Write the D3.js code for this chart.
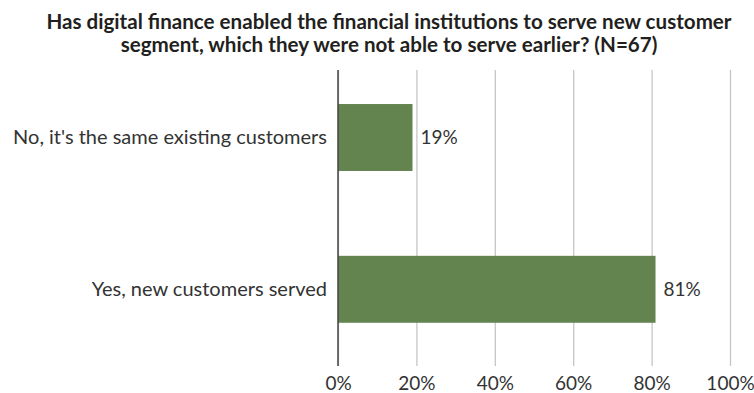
<!DOCTYPE html>
<html>
<head>
<meta charset="utf-8">
<script src="https://cdn.jsdelivr.net/npm/d3@7"></script>
<style>
  html, body { margin: 0; padding: 0; background: #ffffff; }
  svg { display: block; font-family: Lato, "Open Sans", sans-serif; }
</style>
</head>
<body>
<svg id="chart" width="754" height="393"></svg>
<script>
// Survey answers and their shares (%)
const categories = ["No, it's the same existing customers", "Yes, new customers served"];
const values = [19, 81];
const tickValues = [0, 20, 40, 60, 80, 100];
const titleLines = [
  "Has digital finance enabled the financial institutions to serve new customer",
  "segment, which they were not able to serve earlier? (N=67)"
];

const svg = d3.select("#chart");

const plot = { left: 338, right: 730, top: 70, bottom: 366 };

const x = d3.scaleLinear().domain([0, 100]).range([plot.left, plot.right]);
const y = d3.scaleBand()
  .domain(categories)
  .range([61.6, 365.2])
  .paddingInner(0.559)
  .paddingOuter(0.2795);

// Title
svg.append("g").selectAll("text")
  .data(titleLines)
  .join("text")
  .attr("x", 389)
  .attr("y", (d, i) => 29 + i * 23)
  .attr("text-anchor", "middle")
  .attr("font-weight", "bold")
  .attr("font-size", 20.6)
  .attr("fill", "#231f20")
  .text(d => d);

// Vertical gridlines and bottom tick labels
const xAxis = d3.axisBottom(x)
  .tickValues(tickValues)
  .tickFormat(d => d + "%")
  .tickSize(-(plot.bottom - plot.top))
  .tickPadding(11);

const gx = svg.append("g")
  .attr("transform", `translate(0,${plot.bottom})`)
  .call(xAxis);
gx.select(".domain").remove();
gx.selectAll(".tick line").attr("stroke", "#c6c6c6").attr("stroke-width", 1.3);
gx.selectAll(".tick text")
  .attr("font-size", 19)
  .attr("font-family", "Lato, sans-serif")
  .attr("fill", "#333333");

// Bars
svg.append("g").selectAll("rect")
  .data(values)
  .join("rect")
  .attr("x", x(0))
  .attr("y", (d, i) => y(categories[i]))
  .attr("width", d => x(d) - x(0))
  .attr("height", y.bandwidth())
  .attr("fill", "#63844f");

// Category axis line
svg.append("line")
  .attr("x1", x(0)).attr("x2", x(0))
  .attr("y1", plot.top).attr("y2", plot.bottom)
  .attr("stroke", "#444444")
  .attr("stroke-width", 1.5);

// Category labels
svg.append("g").selectAll("text")
  .data(categories)
  .join("text")
  .attr("x", x(0) - 11)
  .attr("y", d => y(d) + y.bandwidth() / 2)
  .attr("dy", "0.32em")
  .attr("text-anchor", "end")
  .attr("font-size", 20)
  .attr("fill", "#333333")
  .text(d => d);

// Value labels
svg.append("g").selectAll("text")
  .data(values)
  .join("text")
  .attr("x", d => x(d) + 8)
  .attr("y", (d, i) => y(categories[i]) + y.bandwidth() / 2)
  .attr("dy", "0.33em")
  .attr("font-size", 19)
  .attr("fill", "#333333")
  .text(d => d + "%");
</script>
</body>
</html>
